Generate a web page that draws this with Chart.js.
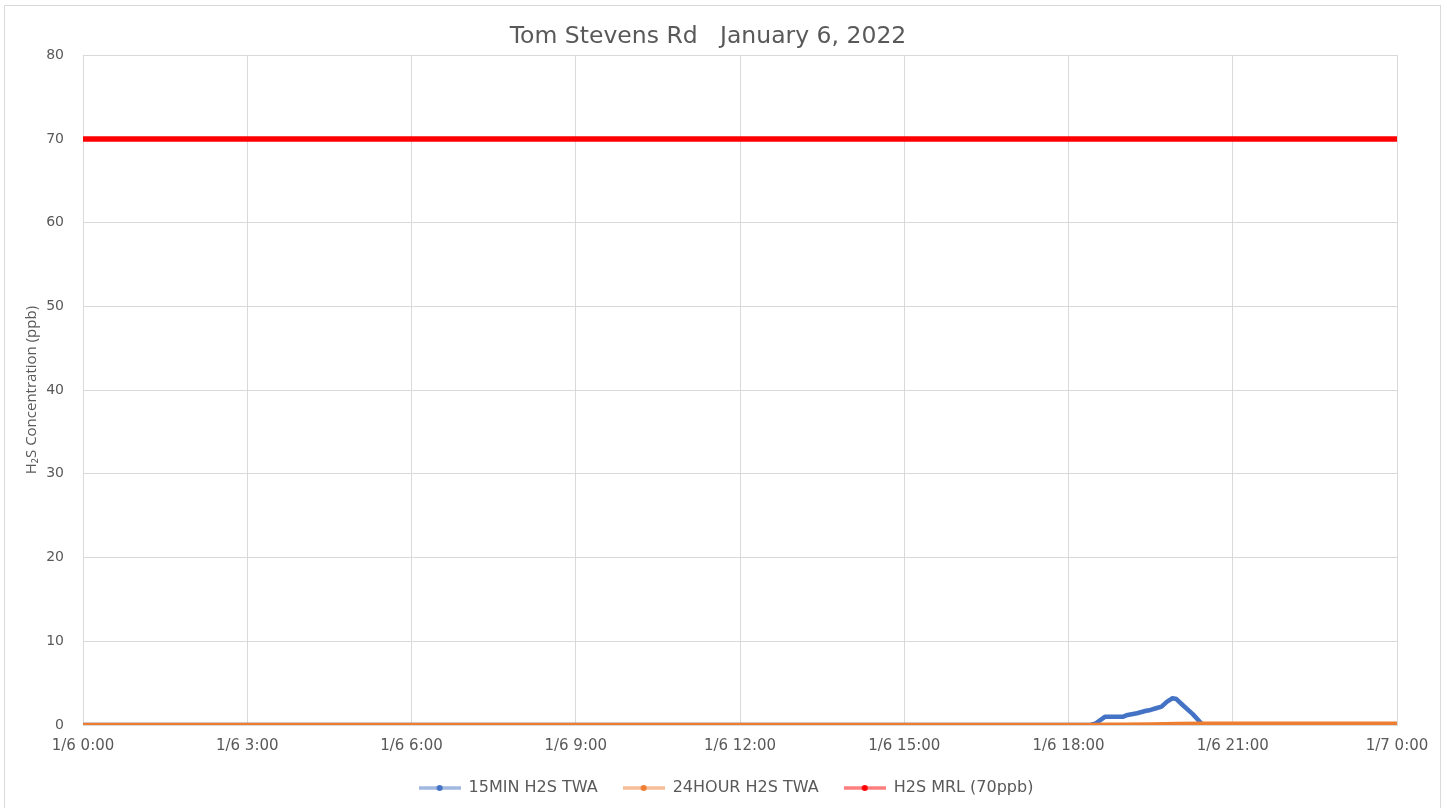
<!DOCTYPE html>
<html lang="en">
<head>
  <meta charset="UTF-8">
  <title>Tom Stevens Rd January 6, 2022</title>
  <script src="https://cdn.jsdelivr.net/npm/chart.js@4.4.0/dist/chart.umd.min.js"></script>
  <style>
  html, body {
    margin: 0;
    padding: 0;
    background: #fff;
    overflow: hidden;
  }
  #frame {
    position: absolute;
    left: 4px;
    top: 5px;
    width: 1437px;
    height: 820px;
    border: 1px solid #d9d9d9;
    box-sizing: border-box;
  }
  #holder {
    position: absolute;
    left: 5px;
    top: 6px;
    width: 1437px;
    height: 802px;
  }
  </style>
</head>
<body>
<div id="frame"></div>
<div id="holder"><canvas id="myChart"></canvas></div>
<script>
    // x values are hours since 1/6 0:00
    const xTickLabels = ['1/6 0:00', '1/6 3:00', '1/6 6:00', '1/6 9:00', '1/6 12:00',
      '1/6 15:00', '1/6 18:00', '1/6 21:00', '1/7 0:00'];

    const min15Hours  = [0, 18.4, 18.5, 18.67, 19.0, 19.08, 19.25, 19.42, 19.5, 19.6, 19.7, 19.8, 19.9, 19.97, 20.1, 20.27, 20.44, 20.55, 24];
    const min15Values = [0, 0, 0.2, 1.0, 1.0, 1.2, 1.4, 1.7, 1.8, 2.0, 2.2, 2.8, 3.2, 3.1, 2.3, 1.3, 0.1, 0, 0];

    const hr24Hours  = [0, 18.4, 18.75, 19.0, 19.5, 20.0, 20.5, 21.0, 24];
    const hr24Values = [0, 0, 0.02, 0.03, 0.07, 0.11, 0.14, 0.15, 0.15];

    const mrlHours  = [0, 24];
    const mrlValues = [70, 70];

    const seriesNames  = ['15MIN H2S TWA', '24HOUR H2S TWA', 'H2S MRL (70ppb)'];
    const seriesColors = ['#4472C4', '#ED7D31', '#FF0000'];

    function toPoints(xs, ys) {
      return xs.map(function(x, i) { return {x: x, y: ys[i]}; });
    }

    // little legend swatch: faded line with a dot in the middle
    function swatch(color, fade) {
      const c = document.createElement('canvas');
      c.width = 42;
      c.height = 10;
      const g = c.getContext('2d');
      g.globalAlpha = fade;
      g.strokeStyle = color;
      g.lineWidth = 3.5;
      g.beginPath();
      g.moveTo(0, 5);
      g.lineTo(42, 5);
      g.stroke();
      g.globalAlpha = 1;
      g.fillStyle = color;
      g.beginPath();
      g.arc(21, 5, 3, 0, Math.PI * 2);
      g.fill();
      return c;
    }
    const swatches = seriesColors.map(function(c) { return swatch(c, 0.5); });

    // legend sits a bit right of the title in the original
    const legendShift = {
      id: 'legendShift',
      afterLayout: function(chart) {
        chart.legend.left += 18;
        chart.legend.right += 18;
      }
    };

    Chart.defaults.font.family = "'DejaVu Sans', sans-serif";
    Chart.defaults.color = '#595959';

    const ctx = document.getElementById('myChart');
    const myChart = new Chart(ctx, {
      type: 'line',
      data: {
        datasets: [{
          label: seriesNames[0],
          data: toPoints(min15Hours, min15Values),
          borderColor: seriesColors[0],
          borderWidth: 4.5,
          pointRadius: 0,
          borderCapStyle: 'round',
          borderJoinStyle: 'round',
          order: 1
        }, {
          label: seriesNames[1],
          data: toPoints(hr24Hours, hr24Values),
          borderColor: seriesColors[1],
          borderWidth: 4.5,
          pointRadius: 0,
          borderCapStyle: 'round',
          borderJoinStyle: 'round',
          order: 0
        }, {
          label: seriesNames[2],
          data: toPoints(mrlHours, mrlValues),
          borderColor: seriesColors[2],
          borderWidth: 5.5,
          pointRadius: 0,
          borderCapStyle: 'round',
          order: 2
        }]
      },
      plugins: [legendShift],
      options: {
        responsive: true,
        maintainAspectRatio: false,
        animation: false,
        layout: {
          padding: {left: 14, right: 45, top: 0, bottom: 2}
        },
        scales: {
          x: {
            type: 'linear',
            min: 0,
            max: 24,
            afterBuildTicks: function(scale) {
              scale.ticks = xTickLabels.map(function(t, i) { return {value: i * 3}; });
            },
            afterFit: function(scale) { scale.height = 30; },
            ticks: {
              padding: 12,
              font: {size: 15},
              maxRotation: 0,
              callback: function(value, index) { return xTickLabels[index]; }
            },
            grid: {color: '#d9d9d9', drawTicks: false},
            border: {color: '#d9d9d9'}
          },
          y: {
            min: 0,
            max: 80,
            afterFit: function(scale) { scale.width = 64; },
            ticks: {
              stepSize: 10,
              padding: 19,
              font: {size: 14}
            },
            title: {
              display: true,
              text: 'H\u2082S Concentration (ppb)',
              font: {family: "'Open Sans', sans-serif", size: 15},
              padding: {top: 4, bottom: 0}
            },
            grid: {color: '#d9d9d9', drawTicks: false},
            border: {color: '#d9d9d9'}
          }
        },
        plugins: {
          title: {
            display: true,
            text: 'Tom Stevens Rd   January 6, 2022',
            color: '#595959',
            font: {size: 23.5, weight: 'normal'},
            padding: {top: 17, bottom: 4}
          },
          legend: {
            position: 'bottom',
            labels: {
              usePointStyle: true,
              pointStyleWidth: 42,
              padding: 25,
              font: {size: 16},
              color: '#595959',
              sort: function(a, b) { return a.datasetIndex - b.datasetIndex; },
              generateLabels: function(chart) {
                const items = Chart.defaults.plugins.legend.labels.generateLabels(chart);
                items.forEach(function(it) { it.pointStyle = swatches[it.datasetIndex]; });
                return items;
              }
            }
          },
          tooltip: {enabled: false}
        }
      }
    });
</script>
</body>
</html>
